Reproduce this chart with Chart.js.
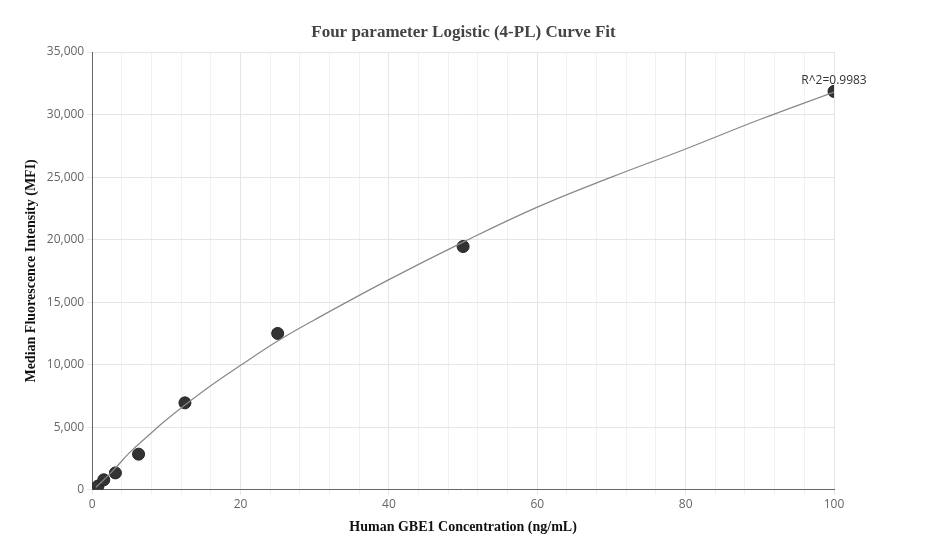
<!DOCTYPE html>
<html><head><meta charset="utf-8">
<script src="https://cdn.jsdelivr.net/npm/chart.js"></script>
<style>html,body{margin:0;background:#fff}#w{width:927px;height:560px}</style>
</head><body><div id="w"><canvas id="c"></canvas></div>
<script>
const concX = [0.78, 1.56, 3.125, 6.25, 12.5, 25, 50, 100];
const mfiY = [300, 800, 1350, 2850, 6950, 12500, 19450, 31850];
const curveX = [0.5, 1, 2, 3, 5, 7.5, 10, 15, 20, 25, 30, 40, 50, 60, 70, 80, 90, 100];
const curveY = [200, 480, 1050, 1650, 2950, 4300, 5600, 7900, 9950, 11900, 13600, 16800, 19800, 22600, 25000, 27250, 29600, 31800];
const r2Label = "R^2=0.9983";
const titleText = 'Four parameter Logistic (4-PL) Curve Fit';
new Chart(document.getElementById('c'), {
  type: 'scatter',
  data: { datasets: [
    { type:'line', data: curveX.map((x,i)=>({x, y:curveY[i]})), borderColor:'#888', borderWidth:1.2, pointRadius:0, tension:0.4, fill:false },
    { data: concX.map((x,i)=>({x, y:mfiY[i]})), backgroundColor:'#333', borderColor:'#222', pointRadius:6 }
  ]},
  options: {
    responsive:true, maintainAspectRatio:false, animation:false,
    layout:{padding:{left:19,right:93,top:52,bottom:20}},
    plugins:{ legend:{display:false}, tooltip:{enabled:false}, title:{display:false} },
    scales:{
      x:{type:'linear',min:0,max:100,
        ticks:{stepSize:4,autoSkip:false,maxRotation:0,color:'#666',font:{family:'Open Sans',size:12},callback:v=>v%20===0?v:''},
        grid:{color:c=>c.tick&&c.tick.value%20===0?'#e1e5ee':'#eff1f7',drawTicks:true,tickLength:5},
        border:{color:'#666'},
        title:{display:true,text:'Human GBE1 Concentration (ng/mL)',font:{family:'Liberation Serif',size:14,weight:'bold'},color:'#111'}},
      y:{min:0,max:35000,
        ticks:{stepSize:5000,color:'#666',font:{family:'Open Sans',size:12},callback:v=>v.toLocaleString('en-US')},
        grid:{color:'#e1e5ee',tickLength:5},
        border:{color:'#666'},
        title:{display:true,text:'Median Fluorescence Intensity (MFI)',font:{family:'Liberation Serif',size:14,weight:'bold'},color:'#111'}}
    }
  },
  plugins:[{id:'r2',afterDatasetsDraw(ch){const m=ch.getDatasetMeta(1).data[7];const g=ch.ctx;g.save();g.font='12px Open Sans';g.fillStyle='#333';g.textAlign='center';g.fillText(r2Label,m.x,m.y-7);
    g.font='bold 17px Liberation Serif';g.fillStyle='#444';g.textBaseline='middle';g.fillText(titleText,ch.width/2,33);g.restore();}}]
});
</script></body></html>
